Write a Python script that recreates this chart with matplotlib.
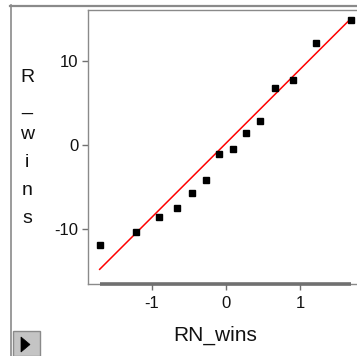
import matplotlib
matplotlib.use("Agg")
import matplotlib.pyplot as plt
from matplotlib.patches import Rectangle, Polygon
from matplotlib.lines import Line2D

plt.rcParams['font.family'] = ['Liberation Sans', 'DejaVu Sans']

# Normal quantiles (x) vs observed values (y)
rn_wins = [-1.69, -1.21, -0.90, -0.66, -0.455, -0.266, -0.09,
           0.099, 0.275, 0.455, 0.667, 0.905, 1.21, 1.69]
r_wins = [-11.94, -10.4, -8.53, -7.54, -5.71, -4.17, -1.11,
          -0.51, 1.43, 2.82, 6.75, 7.7, 12.18, 14.88]
fit_x = [-1.70, 1.68]
fit_y = [-14.8, 15.0]
xticks = [-1, 0, 1]
yticks = [-10, 0, 10]

W, H = 357, 356
fig = plt.figure(figsize=(W / 100, H / 100), dpi=100)

def fx(px):
    return px / W

def fy(py):
    return 1 - py / H

L, R, T, B = 88, 359, 10, 284
ax = fig.add_axes([fx(L), fy(B), fx(R) - fx(L), fy(T) - fy(B)])
ax.set_xlim((L - 225.8) / 74.2, (R - 225.8) / 74.2)
ax.set_ylim((145 - B) / 8.4, (145 - T) / 8.4)

for s in ax.spines.values():
    s.set_color('#8a8a8a')
    s.set_linewidth(1.0)

ax.plot(fit_x, fit_y, color='#ff0000', lw=1.1, zorder=2)
ax.plot(rn_wins, r_wins, 's', color='black', markersize=4.6, zorder=3)

# thick axis line spanning data range
ax.plot([min(rn_wins), max(rn_wins)], [0, 0], color='#707070', lw=2.6,
        transform=ax.get_xaxis_transform(), clip_on=False, solid_capstyle='butt', zorder=4)

ax.set_xticks(xticks)
ax.set_yticks(yticks)
ax.set_xticklabels([str(v) for v in xticks])
ax.set_yticklabels([str(v) for v in yticks])
ax.tick_params(axis='both', direction='out', length=4.5, width=1, color='#707070',
               labelsize=12, labelcolor='#111111')
ax.tick_params(axis='x', pad=4)
ax.tick_params(axis='y', pad=2.5)

fig.text(fx(215), fy(340.5), 'RN_wins', ha='center', va='baseline', fontsize=15, color='#111111')
fig.text(fx(27), fy(148), 'R\n_\nw\ni\nn\ns', ha='center', va='center', fontsize=14,
         color='#111111', linespacing=1.86)

# outer frame
fig.add_artist(Line2D([fx(10), fx(W)], [fy(5.5), fy(5.5)], color='#8a8a8a', lw=1.6,
                      transform=fig.transFigure))
fig.add_artist(Line2D([fx(10.5), fx(10.5)], [fy(5), fy(H)], color='#8a8a8a', lw=1.2,
                      transform=fig.transFigure))

# button
fig.add_artist(Rectangle((fx(13), fy(356)), fx(40) - fx(13), fy(331) - fy(356),
                         transform=fig.transFigure, facecolor='#c4c4c4',
                         edgecolor='#8a8a8a', lw=1.0))
fig.add_artist(Polygon([[fx(21), fy(337)], [fx(21), fy(352)], [fx(30), fy(344.5)]],
                       closed=True, transform=fig.transFigure, facecolor='black',
                       edgecolor='black', lw=0.5))

fig.savefig('out.png', dpi=100)
